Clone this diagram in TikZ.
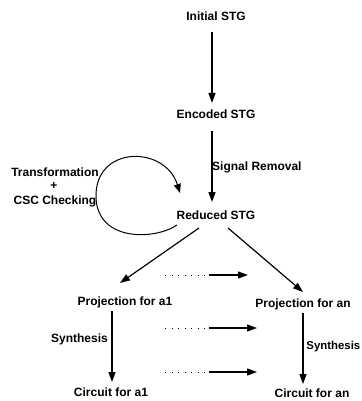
\documentclass[tikz,border=0pt]{standalone}
\usepackage{fontspec}
\setmainfont{Liberation Sans}
\usetikzlibrary{arrows.meta,calc}
\begin{document}
\begin{tikzpicture}[x=1pt,y=-1pt,
  lbl/.style={font=\bfseries\fontsize{12}{14}\selectfont, inner sep=0pt, anchor=base},
  flow/.style={line width=1.2pt, -{Triangle[length=10pt,width=7pt]}},
  loop/.style={line width=1pt, -{Triangle[length=9pt,width=7pt]}},
  dots/.style={line width=1pt, dash pattern=on 0.8pt off 5.7pt},
  tail/.style={line width=1.2pt, -{Triangle[length=10pt,width=7pt]}},
]
\useasboundingbox (0,0) rectangle (361,401);

% stages of the flow
\node[lbl] (init) at (216,21)  {Initial STG};
\node[lbl] (enc)  at (216,118) {Encoded STG};
\node[lbl] (red)  at (216,219) {Reduced STG};
\node[lbl] (pa1)  at (125,305) {Projection for a1};
\node[lbl] (pan)  at (303,307) {Projection for an};
\node[lbl] (ca1)  at (111,396) {Circuit for a1};
\node[lbl] (can)  at (312,397) {Circuit for an};

% step labels
\node[lbl, anchor=base west] (sigrem) at (212,170) {Signal Removal};
\node[lbl] (trans) at (55,176) {Transformation};
\node[lbl] (plus)  at (54,189) {+};
\node[lbl] (csc)   at (55,204) {CSC Checking};
\node[lbl, anchor=base east] (syn1) at (108,342) {Synthesis};
\node[lbl, anchor=base east, font=\bfseries\fontsize{11.4}{14}\selectfont] (synn) at (360.5,349) {Synthesis};

% main arrows
\draw[flow] ($(init.base)+(-4,11)$) -- ($(enc.base)+(-4,-15)$);
\draw[flow] ($(enc.base)+(-4,13)$) -- ($(red.base)+(-4,-17)$);
\draw[flow] ($(red.base)+(-17,9)$) -- ($(pa1.base)+(-5,-22)$);
\draw[flow] ($(red.base)+(12,9)$) -- ($(pan.base)+(0,-15)$);
\draw[flow] ($(pa1.base)+(-13,6)$) -- ($(ca1.base)+(1,-14)$);
\draw[flow] ($(pan.base)+(0,6)$) -- ($(can.base)+(-9,-13)$);

% transformation loop on the reduced STG
\coordinate (loopS) at ($(red.base)+(-39,6)$);
\coordinate (loopE) at ($(red.base)+(-36,-26)$);
\draw[loop] (loopS) .. controls (155,240) and (98,242) .. (96,198)
                    .. controls (94,145) and (165,145) .. (loopE);

% repeated projections and syntheses (dotted lead-in)
\coordinate (r1a) at (165,275); \coordinate (r1b) at (209,275); \coordinate (r1c) at (248,275);
\coordinate (r2a) at (165,328); \coordinate (r2b) at (209,328); \coordinate (r2c) at (257,328);
\coordinate (r3a) at (165,372); \coordinate (r3b) at (209,372); \coordinate (r3c) at (257,372);
\foreach \r in {r1,r2,r3}{
  \draw[dots] (\r a) -- (\r b);
  \draw[tail] (\r b) -- (\r c);
}
\end{tikzpicture}
\end{document}
